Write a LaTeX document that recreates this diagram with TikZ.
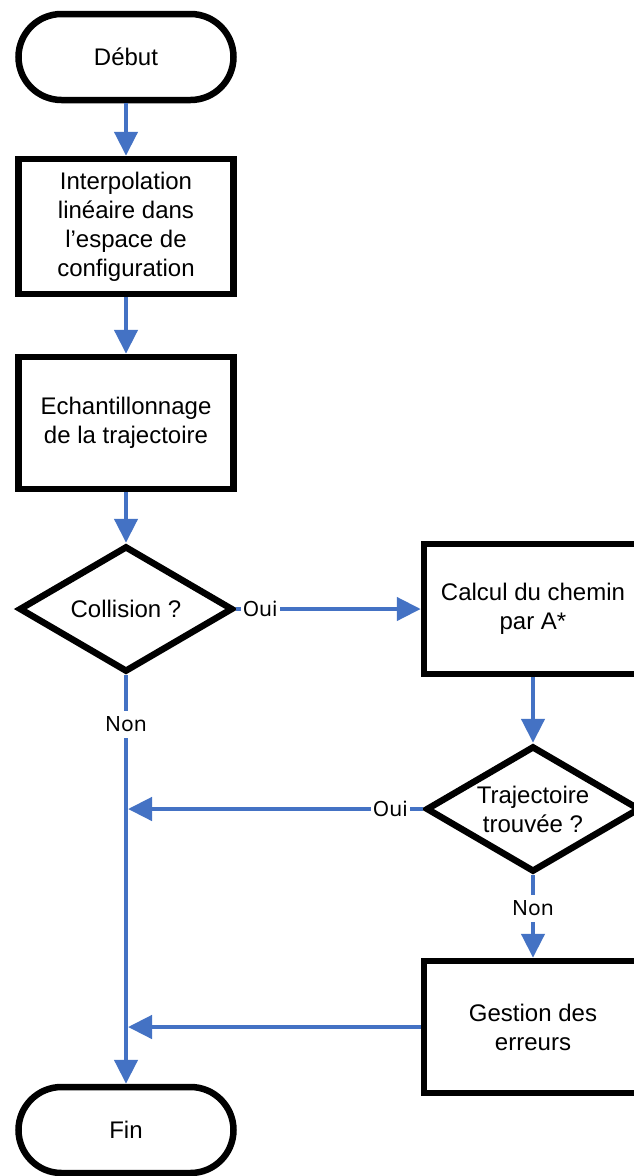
\documentclass[tikz,border=0pt]{standalone}
\usepackage{fontspec}
\setmainfont{Liberation Sans}
\newfontfamily\labelfont{Noto Sans}
\usetikzlibrary{shapes.geometric,arrows.meta}
\definecolor{flowblue}{HTML}{4472C4}
\begin{document}
\begin{tikzpicture}[x=1pt,y=-1pt,
  mainfont/.style={font=\fontsize{24pt}{29pt}\selectfont},
  term/.style={draw=black,line width=6.5pt,rounded corners=43pt,minimum width=215pt,minimum height=86pt,mainfont,inner sep=0pt},
  proc/.style={draw=black,line width=6.5pt,minimum width=215pt,align=center,inner sep=0pt,mainfont},
  dec/.style={diamond,draw=black,line width=6.5pt,minimum width=214pt,minimum height=126pt,aspect=1.7,inner sep=0pt,align=center,mainfont},
  flow/.style={draw=flowblue,line width=4.5pt,-{Triangle[length=24pt,width=23pt]}},
  lab/.style={fill=white,text=black,font=\labelfont\fontsize{21pt}{25pt}\selectfont,inner xsep=2pt,inner ysep=6pt}
]
\useasboundingbox (0,0) rectangle (634,1176);
\fill[white] (0,0) rectangle (634,1176);

\node[term] (debut) at (126,57) {Début};
\node[proc,minimum height=135pt] (interp) at (126,226.5) {Interpolation\\linéaire dans\\l’espace de\\configuration};
\node[proc,minimum height=132pt] (echant) at (126,423) {Echantillonnage\\de la trajectoire};
\node[dec] (coll) at (126,609) {Collision ?};
\node[proc,minimum width=218pt,minimum height=130pt] (calc) at (533,609) {Calcul du chemin\\par A*};
\node[dec] (traj) at (533,809) {Trajectoire\\trouvée ?};
\node[proc,minimum width=218pt,minimum height=132pt] (gest) at (533,1027) {Gestion des\\erreurs};
\node[term] (fin) at (126,1130) {Fin};

\coordinate (j1) at (128,809);
\coordinate (j2) at (128,1027);

\draw[flow] (debut) -- (interp);
\draw[flow] (interp) -- (echant);
\draw[flow] (echant) -- (coll);
\draw[flow] (coll) -- node[lab,pos=0.12]{Non} (fin);
\draw[flow] (coll) -- node[lab,pos=0.13]{Oui} (calc);
\draw[flow] (calc) -- (traj);
\draw[flow] (traj) -- node[lab,pos=0.4]{Non} (gest);
\draw[flow] (traj.west) -- node[lab,pos=0.11]{Oui} (j1);
\draw[flow] (gest.west) -- (j2);
\end{tikzpicture}
\end{document}
